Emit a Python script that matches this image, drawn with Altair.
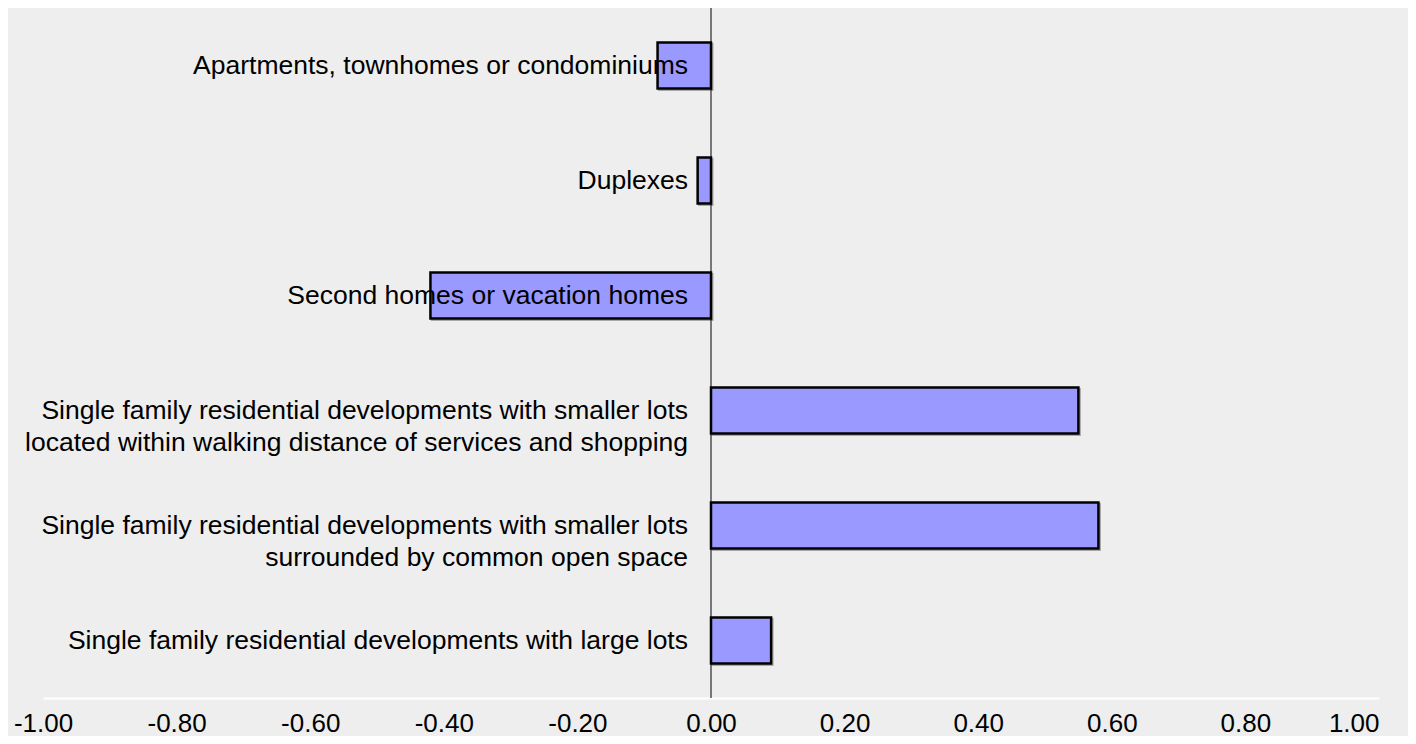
import altair as alt
import pandas as pd

categories = [
    "Apartments, townhomes or condominiums",
    "Duplexes",
    "Second homes or vacation homes",
    "Single family residential developments with smaller lots\nlocated within walking distance of services and shopping",
    "Single family residential developments with smaller lots\nsurrounded by common open space",
    "Single family residential developments with large lots",
]
values = [-0.08, -0.02, -0.42, 0.55, 0.58, 0.09]
tick_values = [-1.0, -0.8, -0.6, -0.4, -0.2, 0.0, 0.2, 0.4, 0.6, 0.8, 1.0]

df = pd.DataFrame({"cat": categories, "val": values, "zero": [0.0] * len(values)})

FONT = "Liberation Sans"

x_scale = alt.Scale(domain=[-1, 1], nice=False, zero=False)
y_scale = alt.Scale(domain=categories, paddingInner=0.6, paddingOuter=0.3)

x_axis = alt.Axis(values=tick_values, title=None, ticks=False,
                  grid=False, domainColor="#ffffff", domainWidth=2,
                  labelExpr="(datum.value < 0 ? '-' : '') + format(abs(datum.value), '.2f')",
                  labelFont=FONT, labelFontSize=26, labelColor="#000000",
                  labelBaseline="middle", labelPadding=25,
                  labelAlign=alt.expr("datum.value >= 1 ? 'right' : 'center'"))

shadow = alt.Chart(df).mark_bar(
    fill="#9a9a9a", fillOpacity=0.0, stroke="#a8a8a8", strokeWidth=2,
    xOffset=1.5, x2Offset=1.5, yOffset=1.5, y2Offset=1.5
).encode(
    x=alt.X("val:Q", scale=x_scale, axis=x_axis),
    x2="zero:Q",
    y=alt.Y("cat:N", scale=y_scale, sort=categories, axis=None),
)

bars = alt.Chart(df).mark_bar(
    fill="#9999ff", stroke="#000000", strokeWidth=2.5
).encode(
    x=alt.X("val:Q", scale=x_scale),
    x2="zero:Q",
    y=alt.Y("cat:N", scale=y_scale, sort=categories, axis=None),
)

labels = alt.Chart(df).mark_text(
    align="right", baseline="middle", dx=-23, font=FONT, fontSize=26.5,
    color="#000000", lineBreak="\n", lineHeight=32
).encode(
    x="zero:Q",
    y=alt.Y("cat:N", scale=y_scale, sort=categories, axis=None),
    text="cat:N",
)

zero_line = alt.Chart(pd.DataFrame({"z": [0.0]})).mark_rule(
    color="#000000", strokeWidth=1
).encode(x=alt.X("z:Q", scale=x_scale))

chart = alt.layer(shadow, bars, zero_line, labels).properties(
    width=1336, height=690,
    autosize=alt.AutoSizeParams(type="none"),
    padding={"left": 35, "top": 0, "right": 29, "bottom": 38},
    background="#eeeeee",
).configure_view(stroke=None)

chart.save("out.html", embed_options={"renderer": "svg", "actions": False})
